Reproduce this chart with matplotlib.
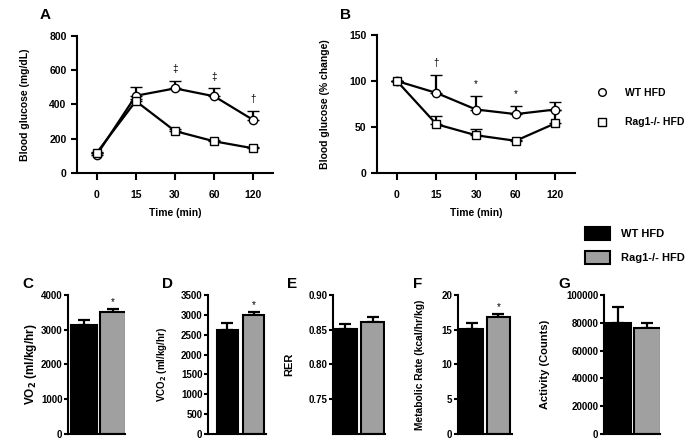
import matplotlib
matplotlib.use('Agg')
import matplotlib.pyplot as plt
from matplotlib.lines import Line2D
from matplotlib.patches import Patch
import numpy as np

plt.rcParams['font.family'] = ['Liberation Sans', 'DejaVu Sans']
plt.rcParams['font.weight'] = 'bold'
plt.rcParams['axes.labelweight'] = 'bold'

# time course data
time_labels = ['0', '15', '30', '60', '120']
wt_glucose = [105, 451, 494, 448, 309]
wt_glucose_err = [10, 53, 45, 46, 55]
rag_glucose = [117, 420, 245, 185, 144]
rag_glucose_err = [8, 15, 12, 8, 8]
glucose_marks = ['', '', '\u2021', '\u2021', '\u2020']

wt_pct = [100, 87, 69, 64, 69]
wt_pct_err = [0, 20, 15, 9, 8]
rag_pct = [100, 53, 41, 35, 54]
rag_pct_err = [0, 9, 7, 1, 14]
pct_marks = ['', '\u2020', '*', '*', '']

# metabolic cage data (WT HFD, Rag1-/- HFD)
vo2 = [3150, 3505]
vo2_err = [130, 85]
vco2 = [2620, 2995]
vco2_err = [165, 85]
rer = [0.851, 0.861]
rer_err = [0.007, 0.008]
metab = [15.1, 16.85]
metab_err = [0.8, 0.4]
activity = [80000, 76500]
activity_err = [11000, 3600]

bar_colors = ['black', '#a0a0a0']

fig = plt.figure(figsize=(7, 4.41), dpi=100)


def style(ax, size):
    ax.spines['top'].set_visible(False)
    ax.spines['right'].set_visible(False)
    ax.spines['left'].set_linewidth(1.5)
    ax.spines['bottom'].set_linewidth(1.5)
    ax.tick_params(width=1.5, length=4, labelsize=size)
    for t in ax.get_xticklabels() + ax.get_yticklabels():
        t.set_fontweight('bold')


def time_panel(rect, wt, wt_err, rag, rag_err, marks, ylim, yticks, ylabel, letter):
    ax = fig.add_axes(rect)
    x = np.arange(len(time_labels))
    ax.errorbar(x, wt, yerr=[np.zeros(len(wt)), wt_err], color='black', lw=1.6,
                capsize=4, capthick=1.6, elinewidth=1.6, marker='o', ms=6,
                mfc='white', mec='black', mew=1, zorder=3)
    ax.errorbar(x, rag, yerr=[np.zeros(len(rag)), rag_err], color='black', lw=1.6,
                capsize=4, capthick=1.6, elinewidth=1.6, marker='s', ms=5.5,
                mfc='white', mec='black', mew=1, zorder=3)
    off = (ylim[1] - ylim[0]) * 0.05
    for xi, yv, e, m in zip(x, wt, wt_err, marks):
        if m:
            ax.text(xi, yv + e + off, m, ha='center', va='bottom', fontsize=7,
                    fontweight='normal')
    ax.set_xlim(-0.5, 4.5)
    ax.set_ylim(*ylim)
    ax.set_yticks(yticks)
    ax.set_xticks(x)
    ax.set_xticklabels(time_labels)
    style(ax, 7.5)
    ax.tick_params(axis='x', length=5, pad=7)
    ax.set_xlabel('Time (min)', fontsize=7.5, labelpad=6)
    ax.set_ylabel(ylabel, fontsize=7.5, labelpad=14)
    fig.text(rect[0] - 0.053, 0.965, letter, fontsize=11, fontweight='bold',
             ha='left', va='center')
    return ax


time_panel([0.110, 0.6077, 0.280, 0.3107], wt_glucose, wt_glucose_err, rag_glucose,
           rag_glucose_err, glucose_marks, (0, 800), [0, 200, 400, 600, 800],
           'Blood glucose (mg/dL)', 'A')
time_panel([0.5386, 0.6077, 0.283, 0.3130], wt_pct, wt_pct_err, rag_pct,
           rag_pct_err, pct_marks, (0, 150), [0, 50, 100, 150],
           'Blood glucose (% change)', 'B')


def bar_panel(rect, vals, errs, ylim, yticks, yticklabels, ylabel, letter, star,
              xlim, width, lab_size=8, lab_pad=4):
    ax = fig.add_axes(rect)
    x = np.arange(2)
    ax.bar(x, np.array(vals) - ylim[0], bottom=ylim[0], width=width,
           color=bar_colors, edgecolor='black', linewidth=1.5, zorder=2)
    ax.errorbar(x, vals, yerr=[[0, 0], errs], fmt='none', ecolor='black',
                elinewidth=1.6, capsize=4, capthick=1.6, zorder=1)
    if star:
        ax.text(1, vals[1] + errs[1] + (ylim[1] - ylim[0]) * 0.015, '*',
                ha='center', va='bottom', fontsize=7, fontweight='normal')
    ax.set_xlim(*xlim)
    ax.set_ylim(*ylim)
    ax.set_xticks([])
    ax.set_yticks(yticks)
    ax.set_yticklabels(yticklabels)
    style(ax, 7)
    ax.tick_params(axis='y', length=3, pad=1)
    ax.set_ylabel(ylabel, fontsize=lab_size, labelpad=lab_pad)
    fig.text(rect[0] - 0.065, 0.355, letter, fontsize=11, fontweight='bold',
             ha='left', va='center')
    return ax


bottom = 0.0159
height = 0.3152
bar_panel([0.0971, bottom, 0.0814, height], vo2, vo2_err, (0, 4000),
          [0, 1000, 2000, 3000, 4000], ['0', '1000', '2000', '3000', '4000'],
          'VO$_\\mathbf{2}$ (ml/kg/hr)', 'C', True, (-0.55, 1.42), 0.9,
          lab_size=8.5, lab_pad=1)
bar_panel([0.2971, bottom, 0.0829, height], vco2, vco2_err, (0, 3500),
          np.arange(0, 3501, 500), [str(v) for v in range(0, 3501, 500)],
          'VCO$_\\mathbf{2}$ (ml/kg/hr)', 'D', True, (-0.75, 1.48), 0.8,
          lab_size=7, lab_pad=8.5)
bar_panel([0.4757, bottom, 0.0743, height], rer, rer_err, (0.70, 0.90),
          [0.75, 0.80, 0.85, 0.90], ['0.75', '0.80', '0.85', '0.90'],
          'RER', 'E', False, (-0.46, 1.46), 0.85, lab_size=8, lab_pad=10)
bar_panel([0.6543, bottom, 0.0771, height], metab, metab_err, (0, 20),
          [0, 5, 10, 15, 20], ['0', '5', '10', '15', '20'],
          'Metabolic Rate (kcal/hr/kg)', 'F', True, (-0.5, 1.5), 0.85,
          lab_size=7.4, lab_pad=12)
bar_panel([0.8629, bottom, 0.0800, height], activity, activity_err, (0, 100000),
          np.arange(0, 100001, 20000), [str(v) for v in range(0, 100001, 20000)],
          'Activity (Counts)', 'G', False, (-0.47, 1.43), 0.9, lab_size=8, lab_pad=12)

# legends
line_handles = [Line2D([], [], ls='none', marker='o', ms=5.5, mfc='white', mec='black', mew=1),
                Line2D([], [], ls='none', marker='s', ms=5.5, mfc='white', mec='black', mew=1)]
fig.legend(line_handles, ['WT HFD', 'Rag1-/- HFD'], loc='center left',
           bbox_to_anchor=(0.832, 0.756), frameon=False,
           labelspacing=1.85, handletextpad=1.2, prop={'weight': 'bold', 'size': 7.5})

bar_handles = [Patch(facecolor=c, edgecolor='black', linewidth=1.5) for c in bar_colors]
fig.legend(bar_handles, ['WT HFD', 'Rag1-/- HFD'], loc='center left',
           bbox_to_anchor=(0.822, 0.443), frameon=False,
           labelspacing=1.0, handlelength=2.2, handleheight=1.4, handletextpad=1.0,
           prop={'weight': 'bold', 'size': 8})

fig.savefig('out.png', dpi=100)
